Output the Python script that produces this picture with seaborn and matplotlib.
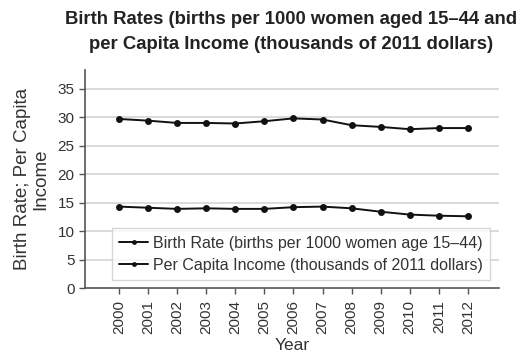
import matplotlib
matplotlib.use("Agg")
import matplotlib.pyplot as plt
import seaborn as sns
import pandas as pd

years = list(range(2000, 2013))
birth_rate = [14.3, 14.1, 13.9, 14.0, 13.9, 13.9, 14.2, 14.3, 14.0, 13.4, 12.9, 12.7, 12.6]
per_capita_income = [29.7, 29.4, 29.0, 29.0, 28.9, 29.3, 29.8, 29.6, 28.6, 28.3, 27.9, 28.1, 28.1]
series_names = ["Birth Rate (births per 1000 women age 15\u201344)",
                "Per Capita Income (thousands of 2011 dollars)"]
y_ticks = [0, 5, 10, 15, 20, 25, 30, 35]

df = pd.DataFrame({
    "Year": years * 2,
    "Value": birth_rate + per_capita_income,
    "Series": [series_names[0]] * len(years) + [series_names[1]] * len(years),
})

sns.set_theme(style="white")
plt.rcParams["font.family"] = ["Liberation Sans", "DejaVu Sans"]

fig = plt.figure(figsize=(5.24, 3.6), dpi=100)
ax = fig.add_axes([85 / 524, 1 - 288 / 360, (499 - 85) / 524, (288 - 70) / 360])

sns.lineplot(data=df, x="Year", y="Value", hue="Series", palette=["#111111", "#111111"],
             marker="o", markersize=5, markeredgewidth=0, linewidth=1.4, ax=ax, legend=True)

ax.set_xlim(1998.83, 2013.07)
ax.set_ylim(0, 38.3)
ax.set_yticks(y_ticks)
ax.set_xticks(years)
ax.set_xticklabels([str(y) for y in years], rotation=90)
for yv in y_ticks[1:]:
    ax.axhline(yv, color="#d4d4d4", linewidth=1.2, zorder=0)

for s in ["top", "right"]:
    ax.spines[s].set_visible(False)
for s in ["left", "bottom"]:
    ax.spines[s].set_color("#555555")
    ax.spines[s].set_linewidth(1.2)
ax.tick_params(axis="both", which="both", direction="out", length=4.5, width=1,
               color="#555555", labelsize=11, labelcolor="#333333", left=True, bottom=True)
ax.tick_params(axis="y", pad=3)
ax.tick_params(axis="x", pad=4)

ax.set_xlabel("Year", fontsize=12.5, color="#333333", labelpad=3)
ax.set_ylabel("Birth Rate; Per Capita\nIncome", fontsize=13.5, color="#333333", labelpad=6,
              linespacing=1.1)

fig.suptitle("Birth Rates (births per 1000 women aged 15\u201344 and\nper Capita Income (thousands of 2011 dollars)",
             x=291 / 524, y=1 - 11 / 360, va="top", fontsize=13.3, fontweight="bold",
             color="#222222", linespacing=1.6)

handles, labels = ax.get_legend_handles_labels()
for h in handles:
    h.set_markersize(3.5)
leg = ax.legend(handles, labels, loc="lower left",
                bbox_to_anchor=((112 - 85) / 414, (288 - 280) / 218),
                frameon=True, fancybox=False, fontsize=11.5, handlelength=1.8,
                borderpad=0.45, labelspacing=0.45, handletextpad=0.3, borderaxespad=0)
leg.get_frame().set_edgecolor("#cccccc")
leg.get_frame().set_linewidth(1)
for t in leg.get_texts():
    t.set_color("#333333")

fig.savefig("out.png", dpi=100)
